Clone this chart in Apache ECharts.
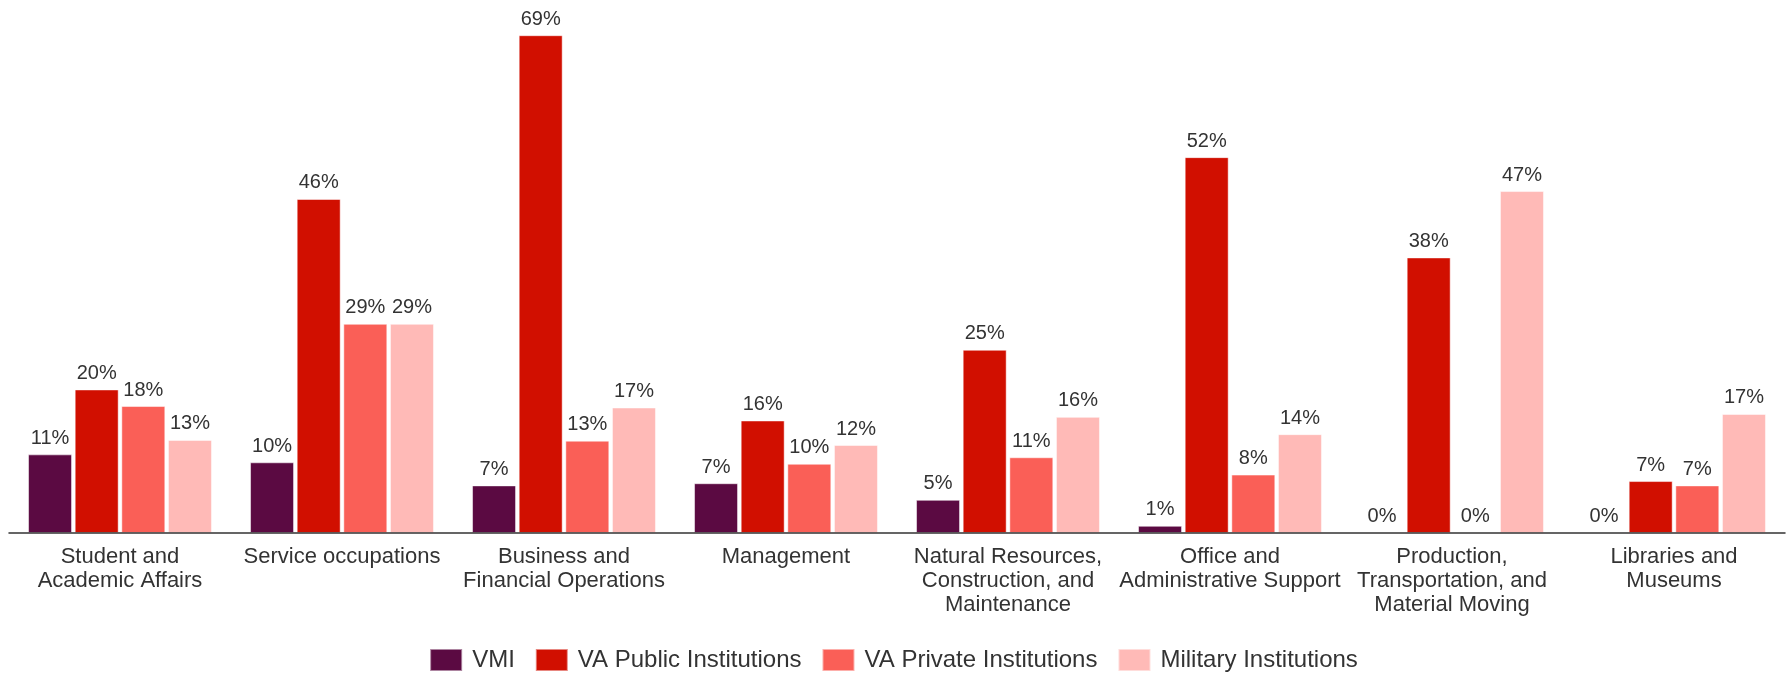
<!DOCTYPE html>
<html>
<head>
<meta charset="utf-8">
<script src="https://cdn.jsdelivr.net/npm/echarts@6/dist/echarts.min.js"></script>
<style>
html,body{margin:0;padding:0;background:#fff;}
#chart{width:1787px;height:680px;}
</style>
</head>
<body>
<div id="chart"></div>
<script>
var categories = [
  "Student and\nAcademic Affairs",
  "Service occupations",
  "Business and\nFinancial Operations",
  "Management",
  "Natural Resources,\nConstruction, and\nMaintenance",
  "Office and\nAdministrative Support",
  "Production,\nTransportation, and\nMaterial Moving",
  "Libraries and\nMuseums"
];
var seriesNames = ["VMI", "VA Public Institutions", "VA Private Institutions", "Military Institutions"];
var vmi      = [10.9, 9.8, 6.6, 6.9, 4.6, 1.0, 0, 0];
var vaPublic = [19.9, 46.3, 69.0, 15.6, 25.4, 52.1, 38.2, 7.2];
var vaPrivate= [17.6, 29.0, 12.8, 9.6, 10.5, 8.1, 0, 6.6];
var military = [12.9, 29.0, 17.4, 12.2, 16.1, 13.7, 47.4, 16.5];
var colors = ["#5b0a42", "#d10f00", "#fa5f57", "#ffbab7"];

var seriesData = [vmi, vaPublic, vaPrivate, military];
var font = "'Liberation Sans', Arial, sans-serif";

var chart = echarts.init(document.getElementById('chart'), null, {renderer: 'canvas'});
chart.setOption({
  animation: false,
  color: colors,
  textStyle: {fontFamily: font},
  grid: {left: 9, right: 2, top: 28, bottom: 147, containLabel: false},
  legend: {
    data: seriesNames,
    bottom: 3,
    left: 'center',
    itemWidth: 32,
    itemHeight: 22,
    itemGap: 20,
    icon: 'rect',
    textStyle: {fontSize: 24, color: '#333', fontFamily: font, padding: [0, 0, 0, 5]}
  },
  xAxis: {
    type: 'category',
    data: categories,
    z: 5,
    axisLine: {lineStyle: {color: '#333', width: 1.5}},
    axisTick: {show: false},
    axisLabel: {interval: 0, fontSize: 22, color: '#333', lineHeight: 24, margin: 12, fontFamily: font}
  },
  yAxis: {
    type: 'value', min: 0, max: 70,
    show: false,
    splitLine: {show: false}
  },
  series: seriesData.map(function (d, i) {
    return {
      name: seriesNames[i],
      type: 'bar',
      data: d,
      barWidth: 44,
      barGap: '6%',
      itemStyle: {color: colors[i], borderColor: 'rgba(255,255,255,0.5)', borderWidth: 1},
      label: {
        show: true, position: 'top', distance: 6,
        fontSize: 20, color: '#333', fontFamily: font,
        formatter: function (p) { return Math.round(p.value) + '%'; }
      }
    };
  })
});
</script>
</body>
</html>
